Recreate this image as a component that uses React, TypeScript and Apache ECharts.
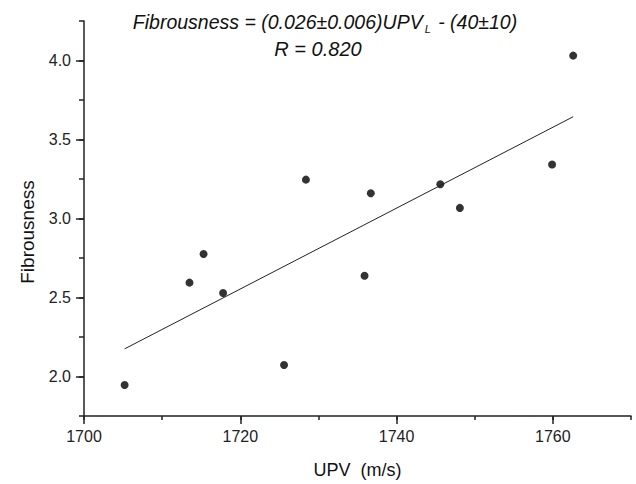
import React, { useEffect, useRef } from "react";
import * as echarts from "echarts";

const upv: number[] = [1705.2, 1713.5, 1715.3, 1717.8, 1725.6, 1728.4, 1735.9, 1736.7, 1745.6, 1748.1, 1759.9, 1762.6];
const fibrousness: number[] = [1.946, 2.594, 2.775, 2.529, 2.073, 3.246, 2.638, 3.16, 3.217, 3.067, 3.342, 4.031];
const fitX: number[] = [1705.2, 1762.6];
const fitY: number[] = [2.175, 3.644];
const xLabelValues: number[] = [1700, 1720, 1740, 1760];
const yLabelValues: number[] = [2.0, 2.5, 3.0, 3.5, 4.0];
const xAxisName = "UPV  (m/s)";
const yAxisName = "Fibrousness";
const equationText = "Fibrousness = (0.026±0.006)UPV";
const equationSub = "L";
const equationTail = " - (40±10)";
const rText = "R = 0.820";

const FONT = "'Liberation Sans', Arial, sans-serif";

export default function App() {
  const ref = useRef<HTMLDivElement>(null);
  useEffect(() => {
    if (!ref.current) return;
    const chart = echarts.init(ref.current, undefined, { renderer: "svg" });
    const lineColor = "#222";
    const baseX = { type: "value", min: 1700, max: 1770, position: "bottom" };
    const baseY = { type: "value", min: 1.75, max: 4.25, position: "left" };
    chart.setOption({
      animation: false,
      backgroundColor: "#fff",
      grid: { left: 84, right: 5, top: 21, bottom: 63, containLabel: false },
      xAxis: [
        {
          ...baseX,
          interval: 10,
          name: xAxisName,
          nameLocation: "middle",
          nameGap: 45,
          nameTextStyle: { fontFamily: FONT, fontSize: 18, color: "#111" },
          axisLine: { show: true, lineStyle: { color: lineColor, width: 1.5 } },
          axisTick: { show: true, inside: false, length: 4, lineStyle: { color: lineColor, width: 1.5 } },
          axisLabel: { show: false },
          splitLine: { show: false },
        },
        {
          ...baseX,
          axisLine: { show: false },
          axisTick: { show: true, inside: false, length: 8, customValues: xLabelValues, lineStyle: { color: lineColor, width: 1.5 } },
          axisLabel: {
            show: true,
            customValues: xLabelValues,
            formatter: (v: number) => String(v),
            fontFamily: FONT,
            fontSize: 16,
            color: "#222",
            margin: 12,
          },
          splitLine: { show: false },
        },
      ],
      yAxis: [
        {
          ...baseY,
          interval: 0.25,
          axisLine: { show: true, lineStyle: { color: lineColor, width: 1.5 } },
          axisTick: { show: true, inside: false, length: 5, lineStyle: { color: lineColor, width: 1.5 } },
          axisLabel: { show: false },
          splitLine: { show: false },
        },
        {
          ...baseY,
          axisLine: { show: false },
          axisTick: { show: true, inside: false, length: 8, customValues: yLabelValues, lineStyle: { color: lineColor, width: 1.5 } },
          axisLabel: {
            show: true,
            customValues: yLabelValues,
            formatter: (v: number) => v.toFixed(1),
            fontFamily: FONT,
            fontSize: 16,
            color: "#222",
            margin: 13,
          },
          splitLine: { show: false },
        },
      ],
      graphic: [
        {
          type: "text",
          x: 325,
          y: 22,
          style: {
            text: `{a|${equationText}}{s|${equationSub}}{a|${equationTail}}`,
            align: "center",
            verticalAlign: "middle",
            fill: "#111",
            rich: {
              a: { fontFamily: FONT, fontSize: 19.5, fontStyle: "italic", fill: "#111", lineHeight: 24 },
              s: { fontFamily: FONT, fontSize: 11, fontStyle: "italic", fill: "#111", lineHeight: 24, verticalAlign: "bottom", padding: [11, 2, 0, 2] },
            },
          },
        },
        {
          type: "text",
          x: 318,
          y: 49,
          style: {
            text: rText,
            align: "center",
            verticalAlign: "middle",
            fill: "#111",
            font: `italic 20px ${FONT}`,
          },
        },
        {
          type: "text",
          x: 27,
          y: 232,
          rotation: Math.PI / 2,
          style: {
            text: yAxisName,
            align: "center",
            verticalAlign: "middle",
            fill: "#111",
            font: `19px ${FONT}`,
          },
        },
      ],
      series: [
        {
          type: "scatter",
          xAxisIndex: 0,
          yAxisIndex: 0,
          data: upv.map((x, i) => [x, fibrousness[i]]),
          symbol: "circle",
          symbolSize: 8,
          itemStyle: { color: "#000" },
        },
        {
          type: "line",
          xAxisIndex: 0,
          yAxisIndex: 0,
          data: fitX.map((x, i) => [x, fitY[i]]),
          showSymbol: false,
          symbol: "none",
          lineStyle: { color: "#222", width: 1 },
        },
      ],
    });
    return () => chart.dispose();
  }, []);
  return <div ref={ref} style={{ width: 636, height: 484, position: "absolute", left: 0, top: 0 }} />;
}
